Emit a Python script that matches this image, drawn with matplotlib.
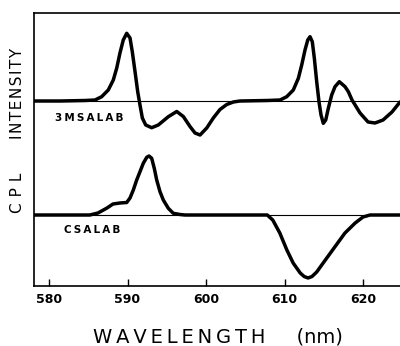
import matplotlib.pyplot as plt

# 3MSALAB (upper trace), deflection from its baseline
wl_top = [578.09, 581.40, 584.59, 585.86, 586.71, 587.55, 588.19, 588.62, 589.04, 589.46,
          589.90, 590.32, 590.61, 590.96, 591.30, 591.59, 591.89, 592.32, 593.08, 593.92,
          595.20, 596.27, 597.11, 597.96, 598.60, 599.24, 600.09, 600.93, 601.78, 602.64,
          603.48, 604.33, 607.77, 609.43, 610.28, 611.12, 611.76, 612.19, 612.61, 612.96,
          613.25, 613.54, 613.80, 614.10, 614.39, 614.65, 614.94, 615.25, 615.58, 616.01,
          616.43, 616.98, 617.71, 618.13, 618.60, 619.62, 620.64, 621.53, 622.55, 623.69,
          624.71]
cpl_top = [0, 0, 0.5, 1, 4.3, 11, 21, 32.7, 48, 61,
           67.7, 63, 49.3, 29.3, 9.3, -4, -17, -24, -26.7, -24,
           -15.7, -10.5, -15.5, -25.5, -32, -34, -27, -17, -8.5, -3.5,
           -1, 0, 0.5, 1, 4.3, 11, 22.7, 36, 51, 61,
           64.3, 59.3, 42.7, 19.3, -0.7, -14, -22.3, -19, -7.3, 6,
           14.3, 19.3, 14.3, 9.3, 1, -12, -21, -22, -19, -11,
           -1]

# CSALAB (lower trace)
wl_bot = [578.09, 585.2, 586.24, 587.39, 588.15, 589.04, 589.9, 590.32, 590.74, 591.17,
          591.59, 592.01, 592.45, 592.74, 593.08, 593.41, 593.72, 594.14, 594.56, 595.20,
          595.83, 596.69, 597.32, 607.8, 608.5, 609.4, 610.3, 611.1, 612.0, 612.5,
          613.0, 613.5, 614.1, 615.2, 616.4, 617.7, 619.0, 620.0, 620.9, 624.71]
cpl_bot = [0, 0, 2, 7, 11, 12, 12.5, 17, 25, 35,
           43.3, 51.7, 57.7, 59, 56.7, 46.7, 35, 23.3, 15, 6.7,
           1.7, 0.5, 0, 0, -5, -18, -35, -48, -58, -61.5,
           -63, -61.5, -57, -45, -32, -18, -8, -2, 0, 0]

xticks = [580, 590, 600, 610, 620]
base_top = 185
base_bot = 71

fig = plt.figure(figsize=(4, 3.46), dpi=100)
ax = fig.add_axes([0.085, 1 - 286 / 346, 0.915, 273 / 346])

ax.axhline(base_top, color='black', lw=0.8)
ax.axhline(base_bot, color='black', lw=0.8)
ax.plot(wl_top, [base_top + v for v in cpl_top], color='black', lw=2.5,
        solid_joinstyle='round', solid_capstyle='round')
ax.plot(wl_bot, [base_bot + v for v in cpl_bot], color='black', lw=2.5,
        solid_joinstyle='round', solid_capstyle='round')

ax.set_xlim(578.09, 624.71)
ax.set_ylim(0, 273)
ax.set_xticks(xticks)
ax.set_xticklabels([str(t) for t in xticks], fontsize=9, fontweight='bold')
ax.tick_params(axis='x', direction='in', length=5, width=1, pad=5)
ax.set_yticks([])
ax.spines['right'].set_visible(False)
for s in ['left', 'top', 'bottom']:
    ax.spines[s].set_linewidth(1.2)

ax.text(580.76, base_top - 17, '\u2009'.join('3MSALAB'), fontsize=7.5,
        fontweight='bold', va='center', ha='left')
ax.text(581.9, base_bot - 15, '\u2009'.join('CSALAB'), fontsize=7.5,
        fontweight='bold', va='center', ha='left')

fig.text(0.045, 1 - 93.5 / 346, '\u200a'.join('INTENSITY'), rotation=90,
         fontsize=11, ha='center', va='center')
fig.text(0.045, 1 - 193 / 346, '\u2009\u2009'.join('CPL'), rotation=90,
         fontsize=11, ha='center', va='center')
fig.text(218 / 400, 1 - 337 / 346, '\u2009'.join('WAVELENGTH') + '     (nm)',
         fontsize=14, ha='center', va='center')

fig.savefig('out.png')
